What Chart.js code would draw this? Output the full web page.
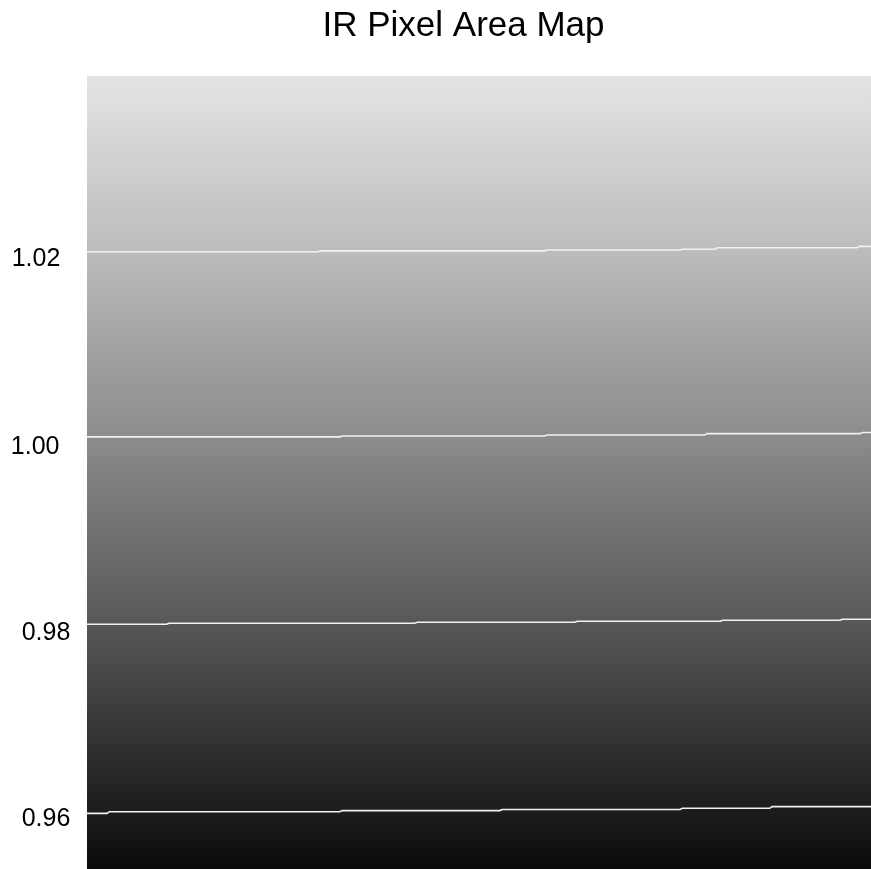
<!DOCTYPE html>
<html>
<head>
<meta charset="utf-8">
<script src="https://cdn.jsdelivr.net/npm/chart.js@4/dist/chart.umd.min.js"></script>
<style>
  html, body { margin: 0; padding: 0; background: #ffffff; }
  #wrap { width: 871px; height: 869px; position: relative; }
</style>
</head>
<body>
<div id="wrap"><canvas id="c"></canvas></div>
<script>
// ---------------- data ----------------
const chartTitle = 'IR Pixel Area Map';
const detectorCols = [0, 1014];          // detector column range
const detectorRows = [0, 1014];          // detector row range

// pixel-area values sampled along the detector rows (mid columns)
const sampleRows  = [0,     73,    315,   554,   790,   1014];
const sampleAreas = [0.954, 0.960, 0.980, 1.000, 1.020, 1.039];

// contour levels and their traced paths [column, row]
const contourLevels = ['1.02', '1.00', '0.98', '0.96'];
const contour102 = [[0, 789.3], [299, 789.3], [302, 790.4], [592, 790.4], [595, 791.5], [767, 791.5], [770, 792.4], [812, 792.4], [815, 794.4], [996, 794.4], [999, 796.2], [1014, 796.2]];
const contour100 = [[0, 552.6], [327, 552.6], [330, 553.6], [592, 553.6], [595, 554.9], [799, 554.9], [802, 556.7], [1000, 556.7], [1003, 558.1], [1014, 558.1]];
const contour098 = [[0, 312.9], [103, 312.9], [106, 314.2], [424, 314.2], [427, 315.5], [631, 315.5], [634, 316.8], [819, 316.8], [822, 318.1], [974, 318.1], [977, 319.4], [1014, 319.4]];
const contour096 = [[0, 71.1], [26, 71.1], [29, 73.3], [327, 73.3], [330, 74.7], [534, 74.7], [537, 76.0], [767, 76.0], [770, 77.6], [883, 77.6], [886, 79.7], [1014, 79.7]];
const contourPaths = [contour102, contour100, contour098, contour096];

// contour label anchors [column, row] (placed left of the map)
const labelCols = [-66, -67, -53, -53];
const labelRows = [780, 540, 301, 64];

// ---------------- styling ----------------
const FONT = '"Liberation Sans", Arial, Helvetica, sans-serif';
// grayscale colour map: pixel area -> gray level
const cmapValues = [0.950, 0.960, 0.980, 1.000, 1.020, 1.040];
const cmapGray   = [0,     28,    88,    140,   188,   230];

function grayFor(v) {
  if (v <= cmapValues[0]) return `rgb(${cmapGray[0]},${cmapGray[0]},${cmapGray[0]})`;
  for (let i = 1; i < cmapValues.length; i++) {
    if (v <= cmapValues[i]) {
      const t = (v - cmapValues[i - 1]) / (cmapValues[i] - cmapValues[i - 1]);
      const g = Math.round(cmapGray[i - 1] + t * (cmapGray[i] - cmapGray[i - 1]));
      return `rgb(${g},${g},${g})`;
    }
  }
  const g = cmapGray[cmapGray.length - 1];
  return `rgb(${g},${g},${g})`;
}

function mapGradient(context) {
  const chart = context.chart;
  const { chartArea, scales } = chart;
  if (!chartArea) return 'rgba(0,0,0,0)';
  const ys = scales.y;
  const p0 = ys.getPixelForValue(sampleRows[0]);
  const p1 = ys.getPixelForValue(sampleRows[sampleRows.length - 1]);
  const grad = chart.ctx.createLinearGradient(0, p0, 0, p1);
  sampleRows.forEach((r, i) => {
    const t = (ys.getPixelForValue(r) - p0) / (p1 - p0);
    grad.addColorStop(Math.min(1, Math.max(0, t)), grayFor(sampleAreas[i]));
  });
  return grad;
}

const contourLabelPlugin = {
  id: 'contourLabels',
  afterDraw(chart) {
    const { ctx, scales } = chart;
    ctx.save();
    ctx.font = `25px ${FONT}`;
    ctx.fillStyle = '#000000';
    ctx.textAlign = 'center';
    ctx.textBaseline = 'middle';
    contourLevels.forEach((t, i) => {
      ctx.fillText(t, scales.x.getPixelForValue(labelCols[i]), scales.y.getPixelForValue(labelRows[i]));
    });
    ctx.restore();
  }
};

const datasets = contourPaths.map((path, i) => ({
  label: contourLevels[i],
  data: path.map(p => ({ x: p[0], y: p[1] })),
  borderColor: '#f2f2f2',
  borderWidth: 1.6,
  pointRadius: 0,
  fill: false,
  tension: 0,
  order: 0
}));

datasets.push({
  label: 'pixel area',
  data: [{ x: detectorCols[0], y: detectorRows[1] }, { x: detectorCols[1], y: detectorRows[1] }],
  borderWidth: 0,
  borderColor: 'rgba(0,0,0,0)',
  pointRadius: 0,
  fill: 'origin',
  backgroundColor: mapGradient,
  order: 10
});

new Chart(document.getElementById('c'), {
  type: 'line',
  data: { datasets },
  plugins: [contourLabelPlugin],
  options: {
    responsive: true,
    maintainAspectRatio: false,
    animation: false,
    layout: { padding: { left: 56, right: 0, top: 0, bottom: 0 } },
    plugins: {
      legend: { display: false },
      tooltip: { enabled: false },
      title: {
        display: true,
        text: chartTitle,
        color: '#000000',
        font: { family: FONT, size: 35, weight: 'normal', lineHeight: 1.2 },
        padding: { top: 5, bottom: 29 }
      }
    },
    scales: {
      x: {
        type: 'linear',
        min: detectorCols[0],
        max: detectorCols[1],
        display: false
      },
      y: {
        type: 'linear',
        min: detectorRows[0],
        max: detectorRows[1],
        display: true,
        grid: { display: false },
        border: { display: false },
        ticks: { display: false },
        afterFit(scale) { scale.width = 31; }
      }
    }
  }
});
</script>
</body>
</html>
